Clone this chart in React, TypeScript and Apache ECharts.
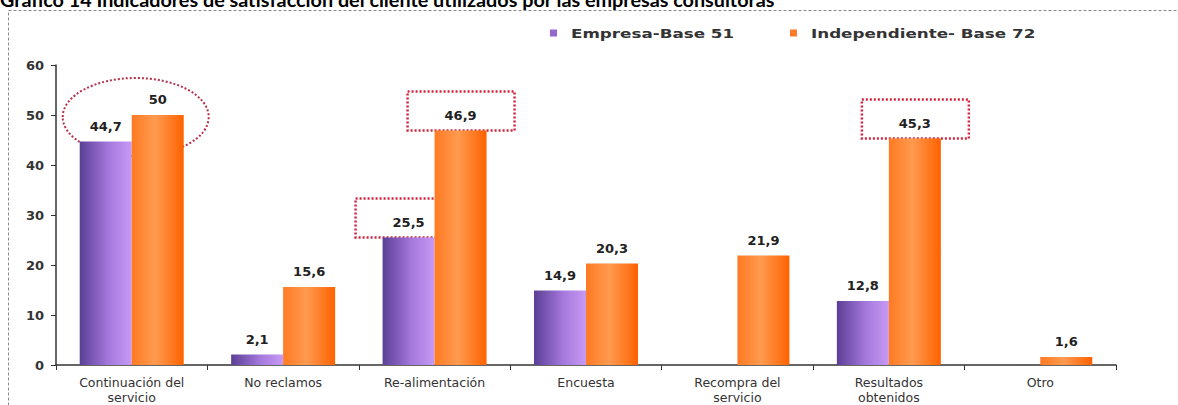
import React, { useEffect, useRef } from "react";
import * as echarts from "echarts";

const categories = [
  "Continuación del\nservicio",
  "No reclamos",
  "Re-alimentación",
  "Encuesta",
  "Recompra del\nservicio",
  "Resultados\nobtenidos",
  "Otro",
];
const empresaName = "Empresa-Base 51";
const independienteName = "Independiente- Base 72";
const empresa: (number | string)[] = [44.7, 2.1, 25.5, 14.9, "-", 12.8, "-"];
const independiente: number[] = [50, 15.6, 46.9, 20.3, 21.9, 45.3, 1.6];
const yTicks = { min: 0, max: 60, interval: 10 };
const titleText =
  "Gráfico 14 Indicadores de satisfacción del cliente utilizados por las empresas consultoras";

// Highlighted values: [category index, series (0 = empresa, 1 = independiente)]
const boxed: [number, number][] = [
  [2, 0],
  [2, 1],
  [5, 1],
];

const BAR_W = 52;
const FONT = "'DejaVu Sans', Verdana, sans-serif";

const purple = new echarts.graphic.LinearGradient(0, 0, 1, 0, [
  { offset: 0, color: "#5b3f96" },
  { offset: 0.55, color: "#a477dc" },
  { offset: 1, color: "#c79af5" },
]);
const orange = new echarts.graphic.LinearGradient(0, 0, 1, 0, [
  { offset: 0, color: "#ff7a22" },
  { offset: 0.45, color: "#ff9a50" },
  { offset: 1, color: "#ff6200" },
]);

const fmt = (p: any) => String(p.value).replace(".", ",");

export default function App() {
  const ref = useRef<HTMLDivElement>(null);

  useEffect(() => {
    if (!ref.current) return;
    const chart = echarts.init(ref.current, undefined, { renderer: "svg" });
    const labelStyle = {
      show: true,
      position: "top" as const,
      distance: 9,
      formatter: fmt,
      fontFamily: FONT,
      fontSize: 13,
      fontWeight: "bold" as const,
      color: "#222",
    };
    chart.setOption({
      animation: false,
      grid: { left: 56, right: 62, top: 65, bottom: 39 },
      legend: { show: false, data: [empresaName, independienteName] },
      xAxis: {
        type: "category",
        data: categories,
        axisLine: { lineStyle: { color: "#333", width: 1.5 } },
        axisTick: { show: true, length: 5, lineStyle: { color: "#333" } },
        axisLabel: {
          interval: 0,
          fontFamily: FONT,
          fontSize: 12.5,
          color: "#333",
          margin: 10,
          lineHeight: 15,
        },
      },
      yAxis: {
        type: "value",
        min: yTicks.min,
        max: yTicks.max,
        interval: yTicks.interval,
        splitLine: { show: false },
        axisLine: { show: true, lineStyle: { color: "#333", width: 1.5 } },
        axisTick: { show: true, length: 5, lineStyle: { color: "#333" } },
        axisLabel: {
          fontFamily: FONT,
          fontSize: 13,
          fontWeight: "bold",
          color: "#333",
          margin: 12,
        },
      },
      series: [
        {
          name: empresaName,
          type: "bar",
          data: empresa,
          barWidth: BAR_W,
          barGap: "0%",
          itemStyle: { color: purple },
          label: labelStyle,
        },
        {
          name: independienteName,
          type: "bar",
          data: independiente,
          barWidth: BAR_W,
          itemStyle: { color: orange },
          label: labelStyle,
        },
      ],
    });

    // Annotation shapes anchored on the data through the axes
    const px = (cat: number, val: number) =>
      chart.convertToPixel({ gridIndex: 0 }, [cat, val]) as number[];
    const seriesVals = [empresa, independiente];
    const red = "#d0243c";

    const legendItem = (x: number, color: string, name: string) => ({
      type: "group",
      x,
      y: 33,
      children: [
        { type: "rect", shape: { x: 0, y: -3.5, width: 7, height: 7 }, style: { fill: color } },
        {
          type: "text",
          x: 21,
          y: 0,
          scaleX: 1.34,
          style: {
            text: name,
            font: `bold 12.5px ${FONT}`,
            fill: "#333",
            textVerticalAlign: "middle",
          },
        },
      ],
    });

    const graphics: any[] = [
      {
        type: "rect",
        shape: { x: 8.5, y: 10.5, width: 1200, height: 420 },
        style: { fill: "none", stroke: "#8a8a8a", lineWidth: 1, lineDash: [3, 2] },
        silent: true,
      },
      {
        type: "text",
        x: 0,
        y: 9,
        style: {
          text: titleText,
          font: "bold 19.8px Lato, 'Liberation Sans', sans-serif",
          fill: "#000",
          textVerticalAlign: "bottom",
        },
      },
      legendItem(550, "#9466d0", empresaName),
      legendItem(790, "#ff7a2a", independienteName),
    ];
    const [ex, ey] = px(0, 49.6);
    graphics.push({
      type: "ellipse",
      shape: { cx: ex + 4, cy: ey, rx: 73, ry: 39 },
      style: { fill: "none", stroke: "#b5304a", lineWidth: 2, lineDash: [2, 2] },
    });
    boxed.forEach(([cat, s]) => {
      const v = Number(seriesVals[s][cat]);
      const [cx, cy] = px(cat, v);
      const bx = cx + (s === 0 ? -BAR_W / 2 : BAR_W / 2);
      graphics.push({
        type: "rect",
        shape: { x: bx - 53, y: cy - 39, width: 107, height: 39 },
        style: { fill: "none", stroke: red, lineWidth: 2.5, lineDash: [2, 2] },
      });
    });
    chart.setOption({ graphic: graphics });

    return () => chart.dispose();
  }, []);

  return (
    <div
      ref={ref}
      style={{ position: "fixed", left: 0, top: 0, width: 1178, height: 405, background: "#fff" }}
    />
  );
}
